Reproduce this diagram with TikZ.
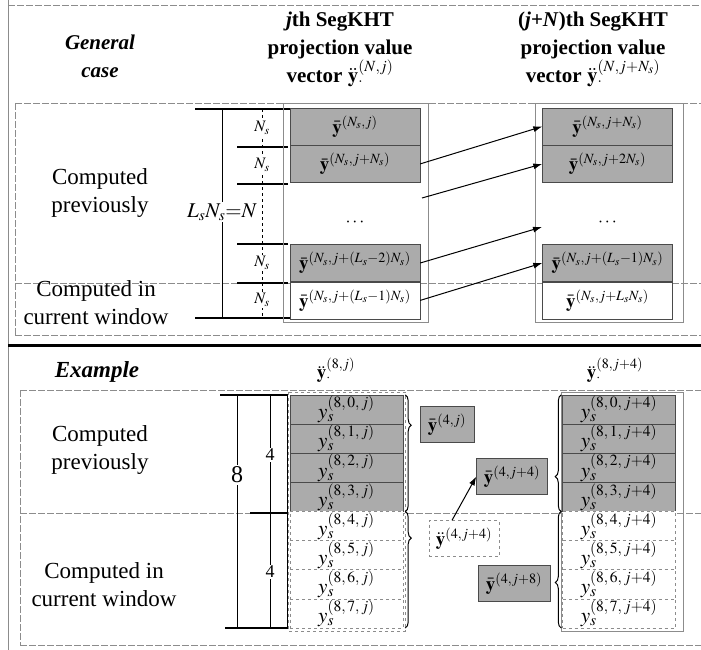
\documentclass[tikz,border=0pt]{standalone}
\usepackage{mathptmx}
\usepackage{fontspec}
\setmainfont{Liberation Serif}
\usetikzlibrary{arrows.meta,positioning,decorations.pathreplacing}
\definecolor{CellGray}{HTML}{ABABAB}
\definecolor{LineGray}{HTML}{4A4A4A}
\definecolor{FrameGray}{HTML}{8C8C8C}

\begin{document}
\begin{tikzpicture}[x=1pt,y=-1pt,
  graycell/.style={rectangle,draw=LineGray,fill=CellGray,minimum width=130pt,minimum height=37pt,inner sep=0pt,font=\fontsize{19}{21}\selectfont},
  whitecell/.style={graycell,fill=white},
  graysmall/.style={rectangle,draw=LineGray,fill=CellGray,minimum width=113pt,minimum height=29.1pt,inner sep=0pt,font=\fontsize{21}{23}\selectfont},
  whitesmall/.style={graysmall,fill=white,draw=FrameGray,dashed},
  graybox/.style={rectangle,draw=LineGray,fill=CellGray,minimum height=36pt,inner sep=2pt,font=\fontsize{19}{21}\selectfont},
  dashbox/.style={graybox,fill=white,draw=FrameGray,dashed},
  sidetext/.style={align=center,font=\fontsize{23}{28}\selectfont},
  headtext/.style={align=center,font=\fontsize{21}{28}\selectfont\bfseries},
  bar/.style={line width=2.2pt,draw=black},
  thinline/.style={line width=0.9pt,draw=black},
  frameline/.style={line width=0.9pt,draw=FrameGray,dash pattern=on 7pt off 2pt},
  colframe/.style={line width=0.8pt,draw=FrameGray},
  tag/.style={fill=white,inner sep=1.5pt},
  arrow/.style={-{Latex[length=9pt,width=6pt]},line width=1pt,draw=black},
  brace/.style={decorate,line width=1pt,draw=black}]
\useasboundingbox (0,0) rectangle (701,650);

% outer frame and section rules
\draw[thinline,draw=FrameGray] (8,0) -- (8,650);
\draw[frameline] (8,5) -- (701,5);
\draw[frameline] (15,103) -- (701,103);
\draw[frameline] (15,103) -- (15,335);
\draw[frameline] (15,335) -- (701,335);
\draw[frameline] (15,283) -- (701,283);
\draw[line width=3pt] (8,345) -- (701,345);
\draw[frameline] (20,390) -- (701,390);
\draw[frameline] (20,390) -- (20,645);
\draw[frameline] (20,645) -- (701,645);
\draw[frameline] (20,513) -- (701,513);

% general case: headers
\node[headtext] (general) at (100,56) {\textit{General}\\\textit{case}};
\node[headtext] (headj) at (340,49) {\textit{j}th SegKHT\\projection value\\vector $\ddot{\mathbf{y}}_{\cdot}^{(N,j)}$};
\node[headtext] (headjn) at (593,49) {(\textit{j}+\textit{N})th SegKHT\\projection value\\vector $\ddot{\mathbf{y}}_{\cdot}^{(N,j+N_s)}$};
\node[sidetext] (prevA) at (100,193) {Computed\\previously};
\node[sidetext] (currA) at (96,303) {Computed in\\current window};

% general case: length marks
\draw[bar] (195,109) -- (290,109);
\draw[bar] (195,318) -- (290,318);
\draw[bar] (237,147) -- (288,147);
\draw[bar] (237,184) -- (288,184);
\draw[bar] (237,244) -- (288,244);
\draw[bar] (237,283) -- (288,283);
\draw[thinline] (222,109) -- (222,318);
\draw[thinline,dashed] (262,109) -- (262,318);
\node[tag,font=\fontsize{21}{24}\selectfont] (lsns) at (222,212) {$L_sN_s{=}N$};
\node[tag,font=\fontsize{16}{18}\selectfont] (nsA) at (262,128) {$N_s$};
\node[tag,font=\fontsize{16}{18}\selectfont] (nsB) at (262,165) {$N_s$};
\node[tag,font=\fontsize{16}{18}\selectfont] (nsC) at (262,263) {$N_s$};
\node[tag,font=\fontsize{16}{18}\selectfont] (nsD) at (262,300) {$N_s$};

% general case: jth vector
\draw[colframe] (283,103) rectangle (428,322);
\node[graycell] (jA) at (355,126.5) {$\bar{\mathbf{y}}^{(N_s,j)}$};
\node[graycell,below=0pt of jA] (jB) {$\bar{\mathbf{y}}^{(N_s,j+N_s)}$};
\node[font=\fontsize{18}{20}\selectfont] (jdots) at (355,223) {$\cdots$};
\node[graycell] (jC) at (355,263) {$\bar{\mathbf{y}}^{(N_s,j+(L_s-2)N_s)}$};
\node[whitecell,below=0pt of jC] (jD) {$\bar{\mathbf{y}}^{(N_s,j+(L_s-1)N_s)}$};

% general case: (j+N)th vector
\draw[colframe] (535,103) rectangle (683,322);
\node[graycell] (nA) at (607.5,126.5) {$\bar{\mathbf{y}}^{(N_s,j+N_s)}$};
\node[graycell,below=0pt of nA] (nB) {$\bar{\mathbf{y}}^{(N_s,j+2N_s)}$};
\node[font=\fontsize{18}{20}\selectfont] (ndots) at (607.5,223) {$\cdots$};
\node[graycell] (nC) at (607.5,263) {$\bar{\mathbf{y}}^{(N_s,j+(L_s-1)N_s)}$};
\node[whitecell,below=0pt of nC] (nD) {$\bar{\mathbf{y}}^{(N_s,j+L_sN_s)}$};

\coordinate (gapA) at (422,198);
\coordinate (gapB) at (542,227);
\draw[arrow] (jB.east) -- (nA.west);
\draw[arrow] (gapA) -- (nB.west);
\draw[arrow] (jC.east) -- (gapB);
\draw[arrow] (jD.east) -- (nC.west);

% example: headers
\node[headtext,font=\fontsize{23}{28}\selectfont\bfseries] (example) at (97,372) {\textit{Example}};
\node[font=\fontsize{19}{22}\selectfont] (heade) at (336,370) {$\ddot{\mathbf{y}}_{\cdot}^{(8,j)}$};
\node[font=\fontsize{19}{22}\selectfont] (heade4) at (615,370) {$\ddot{\mathbf{y}}_{\cdot}^{(8,j+4)}$};
\node[sidetext] (prevB) at (100,450) {Computed\\previously};
\node[sidetext] (currB) at (104,585) {Computed in\\current window};

% example: length marks
\draw[bar] (220,395) -- (288,395);
\draw[bar] (225,628) -- (288,628);
\draw[bar] (250,513) -- (288,513);
\draw[thinline] (237,395) -- (237,628);
\draw[thinline] (270,395) -- (270,628);
\draw[thinline] (287,395) -- (287,628);
\node[tag,font=\fontsize{24}{26}\selectfont] (eight) at (237,475) {8};
\node[tag,font=\fontsize{18}{20}\selectfont] (fourA) at (270,455) {4};
\node[tag,font=\fontsize{18}{20}\selectfont] (fourB) at (270,572) {4};

% example: y^(8,j) and y^(8,j+4)
\draw[colframe,dashed] (288,392) rectangle (405,631);
\draw[colframe] (561,392) rectangle (683,631);
\foreach \k in {0,...,3} {
  \node[graysmall] (ea\k) at (346.5,{409.6+29.1*\k}) {$y_s^{(8,\,\k,\,j)}$};
  \node[graysmall] (eb\k) at (619,{409.6+29.1*\k}) {$y_s^{(8,\,\k,\,j+4)}$};
}
\foreach \k in {4,...,7} {
  \node[whitesmall] (ea\k) at (346.5,{409.6+29.1*\k}) {$y_s^{(8,\,\k,\,j)}$};
  \node[whitesmall] (eb\k) at (619,{409.6+29.1*\k}) {$y_s^{(8,\,\k,\,j+4)}$};
}

% example: four-sample vectors
\node[graybox,minimum width=54pt] (pj) at (447,424.5) {$\bar{\mathbf{y}}^{(4,j)}$};
\node[dashbox,minimum width=70pt] (cj4) at (464,538.5) {$\ddot{\mathbf{y}}^{(4,j+4)}$};
\node[graybox,minimum width=71pt] (pj4) at (512,476.5) {$\bar{\mathbf{y}}^{(4,j+4)}$};
\node[graybox,minimum width=72pt] (pj8) at (514,583.5) {$\bar{\mathbf{y}}^{(4,j+8)}$};

\draw[brace,decoration={brace,amplitude=6pt,aspect=0.26,raise=2pt}] (ea0.north east) -- (ea3.south east);
\draw[brace,decoration={brace,amplitude=6pt,aspect=0.23,raise=2pt}] (ea4.north east) -- (ea7.south east);
\draw[brace,decoration={brace,amplitude=6pt,aspect=0.30,raise=1pt}] (eb3.south west) -- (eb0.north west);
\draw[brace,decoration={brace,amplitude=6pt,aspect=0.39,raise=1pt}] (eb7.south west) -- (eb4.north west);
\draw[arrow] ([xshift=-12pt]cj4.north) -- (pj4.west);
\end{tikzpicture}
\end{document}
